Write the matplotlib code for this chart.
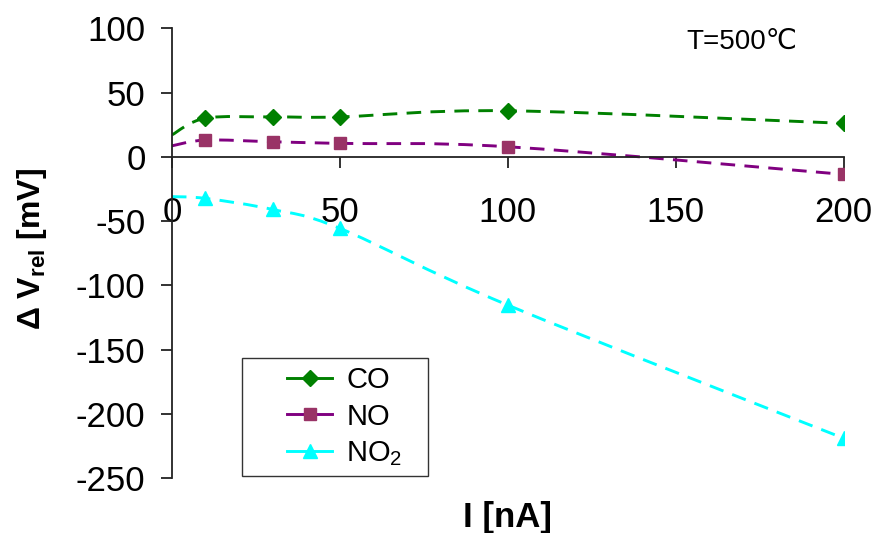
import matplotlib
matplotlib.use("Agg")
import matplotlib.pyplot as plt
from matplotlib.path import Path
from matplotlib.patches import PathPatch
from matplotlib.lines import Line2D
from matplotlib.legend_handler import HandlerLine2D

plt.rcParams['font.family'] = ['Liberation Sans', 'DejaVu Sans']
plt.rcParams['mathtext.fontset'] = 'custom'
plt.rcParams['mathtext.rm'] = 'Liberation Sans'
plt.rcParams['mathtext.it'] = 'Liberation Sans'
plt.rcParams['mathtext.bf'] = 'Liberation Sans:bold'
plt.rcParams['axes.unicode_minus'] = False

# data (first point = line start, no marker)
current = [0, 10, 30, 50, 100, 200]
co = [17, 30, 31, 31, 35.8, 26]
no = [8.5, 13, 11.7, 10.4, 7.8, -13.7]
no2 = [-31, -32.4, -41, -55.7, -115.4, -219]

series = [
    ("CO", co, '#008000', 'D', '#008000', 8),
    ("NO", no, '#800080', 's', '#993366', 9),
    ("NO$_2$", no2, '#00FFFF', '^', '#00FFFF', 10),
]

xticks = [0, 50, 100, 150, 200]
yticks = [-250, -200, -150, -100, -50, 0, 50, 100]


def smooth_path(xs, ys):
    pts = list(zip(xs, ys))
    n = len(pts)
    verts = [pts[0]]
    codes = [Path.MOVETO]
    for i in range(n - 1):
        p0 = pts[i - 1] if i > 0 else pts[i]
        p1 = pts[i]
        p2 = pts[i + 1]
        p3 = pts[i + 2] if i + 2 < n else pts[i + 1]
        c1 = (p1[0] + (p2[0] - p0[0]) / 6, p1[1] + (p2[1] - p0[1]) / 6)
        c2 = (p2[0] - (p3[0] - p1[0]) / 6, p2[1] - (p3[1] - p1[1]) / 6)
        verts += [c1, c2, p2]
        codes += [Path.CURVE4] * 3
    return Path(verts, codes)


fig = plt.figure(figsize=(8.77, 5.33), dpi=100)
ax = fig.add_axes([0.196, 0.103, 0.766, 0.844])

handles = []
for name, vals, lc, mk, mc, ms in series:
    patch = PathPatch(smooth_path(current, vals), fill=False, edgecolor=lc,
                      linewidth=2.1, linestyle=(0, (5, 3.2)), zorder=2)
    ax.add_patch(patch)
    ax.plot(current[1:], vals[1:], linestyle='none', marker=mk, color=mc,
            markersize=ms, markeredgecolor=mc, zorder=3)
    handles.append(Line2D([], [], color=lc, linewidth=2.1, marker=mk,
                          markerfacecolor=mc, markeredgecolor=mc,
                          markersize=ms, label=name))

ax.set_xlim(0, 200)
ax.set_ylim(-250, 100)
ax.set_xticks(xticks)
ax.set_yticks(yticks)

ax.spines['top'].set_visible(False)
ax.spines['right'].set_visible(False)
ax.spines['bottom'].set_position(('data', 0))
for s in ('left', 'bottom'):
    ax.spines[s].set_linewidth(1.3)
    ax.spines[s].set_color('#222222')

ax.tick_params(axis='y', direction='out', length=8, width=1.3,
               labelsize=25, pad=11, color='#222222')
ax.tick_params(axis='x', direction='out', length=8, width=1.3,
               labelsize=25, pad=20, color='#222222')

ax.set_xlabel('I [nA]', fontsize=25, fontweight='bold', labelpad=0)
ax.xaxis.set_label_coords(0.5, -0.052)
ax.set_ylabel(r'$\mathbf{\Delta\ V_{rel}}$ [mV]', fontsize=23,
              fontweight='bold')
ax.yaxis.set_label_coords(-0.183, 0.509)

fig.text(0.783, 0.921, 'T=500℃', fontsize=20, ha='left', va='center')

leg = fig.legend(handles=handles, loc='lower left',
                 bbox_to_anchor=(242 / 877, 1 - 476 / 533, 186 / 877, 119 / 533),
                 mode='expand', fontsize=21,
                 frameon=True, fancybox=False, edgecolor='black',
                 handlelength=2.8, handletextpad=0.5, borderpad=0.28,
                 labelspacing=0.29, borderaxespad=0,
                 handler_map={Line2D: HandlerLine2D(xpad=1.27)})
leg.get_frame().set_linewidth(1.0)

fig.savefig('out.png', dpi=100)
